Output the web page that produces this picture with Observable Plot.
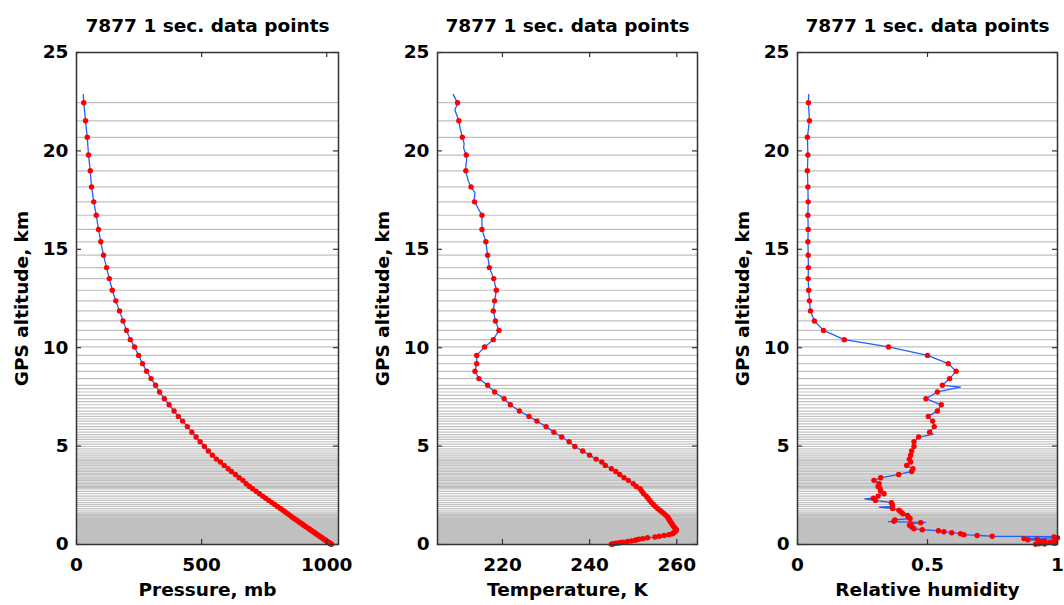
<!DOCTYPE html>
<html>
<head>
<meta charset="utf-8">
<script src="https://cdn.jsdelivr.net/npm/d3@7"></script>
<script src="https://cdn.jsdelivr.net/npm/@observablehq/plot@0.6"></script>
<style>
  html, body { margin: 0; padding: 0; background: #fff; }
  body { width: 1064px; height: 605px; position: relative; overflow: hidden; font-family: "DejaVu Sans", sans-serif; }
  .panel { position: absolute; top: 0; }
</style>
</head>
<body>
<div id="p1" class="panel" style="left:0px"></div>
<div id="p2" class="panel" style="left:360px"></div>
<div id="p3" class="panel" style="left:720px"></div>
<script>
// ---------- data ----------
const altitude = [
  22.45, 21.53, 20.69, 19.79, 18.99, 18.17, 17.41, 16.73, 16.01, 15.38,
  14.70, 14.07, 13.51, 12.92, 12.38, 11.87, 11.36, 10.88, 10.41, 10.04,
  9.61, 9.19, 8.80, 8.43, 8.09, 7.75, 7.41, 7.10, 6.78, 6.51,
  6.27, 5.99, 5.71, 5.46, 5.22, 4.98, 4.75, 4.54, 4.34, 4.19,
  4.02, 3.85, 3.71, 3.56, 3.39, 3.26, 3.09, 2.95, 2.83,
  2.70, 2.58, 2.46, 2.35, 2.24, 2.13, 2.03, 1.93, 1.83, 1.74,
  1.65, 1.56, 1.48, 1.40, 1.32, 1.25, 1.18, 1.11, 1.04, 0.98,
  0.92, 0.86, 0.80, 0.75, 0.70, 0.65, 0.60, 0.55, 0.50, 0.46,
  0.42, 0.38, 0.34, 0.30, 0.27, 0.24, 0.21, 0.18, 0.15, 0.12,
  0.10, 0.08, 0.06, 0.04, 0.02, 0.01
];
const pressure = [
  29, 36, 43, 48, 55, 60, 69, 79, 88, 97,
  108, 120, 131, 143, 157, 172, 186, 200, 215, 232,
  248, 264, 280, 298, 316, 332, 351, 370, 390, 407,
  424, 443, 461, 478, 494, 511, 527, 543, 559, 575,
  590, 606, 619, 635, 650, 665, 678, 691, 704,
  718, 731, 744, 756, 769, 781, 792, 803, 815, 825,
  834, 844, 853, 861, 870, 878, 886, 894, 902, 908,
  915, 922, 929, 934, 940, 946, 952, 957, 963, 967,
  972, 976, 981, 985, 989, 992, 995, 999, 1002, 1006,
  1008, 1010, 1013, 1015, 1017, 1019
];
const temperature = [
  209.7, 210.0, 210.8, 211.7, 211.6, 212.8, 213.6, 215.3, 215.3, 216.2,
  216.6, 217.0, 218.0, 218.6, 218.2, 217.9, 218.4, 219.2, 217.9, 215.9,
  214.1, 214.1, 213.7, 214.6, 216.6, 218.2, 220.4, 221.8, 223.9, 226.1,
  227.9, 230.0, 231.8, 233.6, 235.3, 236.6, 238.4, 240.0, 241.5, 242.8,
  243.6, 245.0, 246.0, 246.9, 247.9, 248.9, 250.0, 250.7, 251.6,
  252.0, 252.4, 253.0, 253.4, 253.8, 254.2, 254.6, 255.1, 255.6, 256.1,
  256.6, 257.1, 257.5, 257.9, 258.1, 258.3, 258.5, 258.7, 258.9, 259.1,
  259.3, 259.5, 259.7, 259.9, 259.8, 259.6, 259.3, 259.0, 258.2, 257.1,
  256.0, 255.0, 253.3, 252.2, 251.3, 250.8, 250.4, 249.6, 248.7, 247.7,
  247.1, 246.6, 246.0, 245.5, 245.2, 245.0
];
const humidity = [
  0.042, 0.046, 0.038, 0.040, 0.038, 0.040, 0.041, 0.040, 0.041, 0.040,
  0.041, 0.042, 0.041, 0.043, 0.046, 0.050, 0.065, 0.100, 0.180, 0.350,
  0.500, 0.580, 0.610, 0.585, 0.557, 0.538, 0.494, 0.553, 0.538, 0.503,
  0.520, 0.526, 0.508, 0.466, 0.448, 0.448, 0.439, 0.435, 0.430, 0.435,
  0.420, 0.444, 0.439, 0.389, 0.320, 0.294, 0.314, 0.310, 0.318,
  0.320, 0.333, 0.310, 0.292, 0.300, 0.361, 0.365, 0.365, 0.366, 0.390,
  0.398, 0.405, 0.423, 0.426, 0.433, 0.375, 0.371, 0.474, 0.435, 0.431,
  0.438, 0.442, 0.448, 0.480, 0.542, 0.563, 0.593, 0.627, 0.640, 0.691,
  0.749, 0.986, 1.000, 0.871, 0.922, 0.886, 0.990, 0.950, 0.935, 0.973,
  0.946, 0.985, 0.990, 0.930, 0.950, 0.916
];

// extra 1-second samples seen only in the blue lines
const pressureLineAlt = [22.87];
const pressureLineVal = [27];
const temperatureLineAlt = [22.87, 22.07, 21.14, 20.38, 20.13, 19.53, 19.28, 18.51, 17.87, 17.50, 10.21];
const temperatureLineVal = [208.7, 209.1, 210.3, 211.2, 211.1, 211.8, 211.6, 212.1, 213.7, 213.5, 216.9];
const humidityLineAlt = [22.87, 8.00, 5.60, 2.32, 1.90, 1.16, 1.12, 0.40];
const humidityLineVal = [0.043, 0.627, 0.522, 0.259, 0.314, 0.350, 0.493, 1.000];

// additional grey level lines (without plotted points)
const extraLevels = [
  7.92, 7.58, 7.26, 6.94, 6.64, 6.39, 6.13, 5.85, 5.58, 5.34,
  5.10, 4.86, 4.64, 4.44, 4.26, 4.10, 3.93, 3.78, 3.63, 3.47,
  3.32, 3.17, 3.02, 2.89,
  1.52, 1.44, 1.36, 1.28,
  1.21, 1.14, 1.07, 1.01, 0.95, 0.89, 0.83, 0.77, 0.72, 0.67,
  0.62, 0.57, 0.52, 0.48, 0.44, 0.40, 0.36, 0.32, 0.285, 0.255,
  0.225, 0.195, 0.165, 0.135, 0.11, 0.09, 0.07, 0.05, 0.03, 0.0
];

const yTicks = [0, 5, 10, 15, 20, 25];
const pressureTicks = [0, 500, 1000];
const temperatureTicks = [220, 240, 260];
const humidityTicks = [0, 0.5, 1];
const panelTitle = "7877 1 sec. data points";
const yLabel = "GPS altitude, km";
const xLabels = ["Pressure, mb", "Temperature, K", "Relative humidity"];

// ---------- drawing ----------
const H = 605, MT = 52, MB = 61;
const frameColor = "#333333";
const levelColor = "#c0c0c0";

function panel(el, {width, ml, mr, domain, ticks, values, lineAlt, lineVal, xLabel}) {
  const plotW = width - ml - mr;
  const plotH = H - MT - MB;
  const dots = altitude.map((a, i) => ({alt: a, v: values[i]}));
  const line = d3.sort(dots.concat(lineAlt.map((a, i) => ({alt: a, v: lineVal[i]}))), d => -d.alt);
  const chart = Plot.plot({
    width, height: H,
    marginLeft: ml, marginRight: mr, marginTop: MT, marginBottom: MB,
    style: {fontFamily: "DejaVu Sans", fontWeight: "bold", fontSize: "18.5px", color: "#000", background: "#fff", overflow: "visible"},
    x: {domain},
    y: {domain: [0, 25]},
    marks: [
      Plot.ruleY(extraLevels, {y: d => d, stroke: levelColor, strokeWidth: 1.2}),
      Plot.ruleY(altitude, {y: d => d, stroke: levelColor, strokeWidth: 1.2}),
      Plot.line(line, {x: "v", y: "alt", stroke: "#1f5fff", strokeWidth: 1.3}),
      Plot.dot(dots, {x: "v", y: "alt", r: 2.7, fill: "#ff0000", stroke: null}),
      Plot.frame({stroke: frameColor, strokeWidth: 1.5}),
      Plot.tickY(yTicks, {y: d => d, stroke: frameColor, strokeWidth: 1.2, insetRight: plotW - 5}),
      Plot.tickY(yTicks, {y: d => d, stroke: frameColor, strokeWidth: 1.2, insetLeft: plotW - 5}),
      Plot.tickX(ticks, {x: d => d, stroke: frameColor, strokeWidth: 1.2, insetTop: plotH - 5}),
      Plot.tickX(ticks, {x: d => d, stroke: frameColor, strokeWidth: 1.2, insetBottom: plotH - 5}),
      Plot.axisY(yTicks, {tickSize: 0, tickPadding: 8, label: null, tickFormat: d => String(d)}),
      Plot.axisX(ticks, {tickSize: 0, tickPadding: 13, label: null, tickFormat: d => String(d)}),
      Plot.text([panelTitle], {text: d => d, frameAnchor: "top", dy: -26, lineAnchor: "middle"}),
      Plot.text([xLabel], {text: d => d, frameAnchor: "bottom", dy: 46, lineAnchor: "middle"}),
      Plot.text([yLabel], {text: d => d, frameAnchor: "left", dx: -54, rotate: -90, lineAnchor: "middle", textAnchor: "middle"})
    ]
  });
  document.getElementById(el).appendChild(chart);
}

panel("p1", {width: 360, ml: 76, mr: 22, domain: [0, 1047], ticks: pressureTicks,
  values: pressure, lineAlt: pressureLineAlt, lineVal: pressureLineVal, xLabel: xLabels[0]});
panel("p2", {width: 360, ml: 77, mr: 23, domain: [205.1, 264.75], ticks: temperatureTicks,
  values: temperature, lineAlt: temperatureLineAlt, lineVal: temperatureLineVal, xLabel: xLabels[1]});
panel("p3", {width: 344, ml: 77, mr: 7, domain: [0, 1], ticks: humidityTicks,
  values: humidity, lineAlt: humidityLineAlt, lineVal: humidityLineVal, xLabel: xLabels[2]});
</script>
</body>
</html>
